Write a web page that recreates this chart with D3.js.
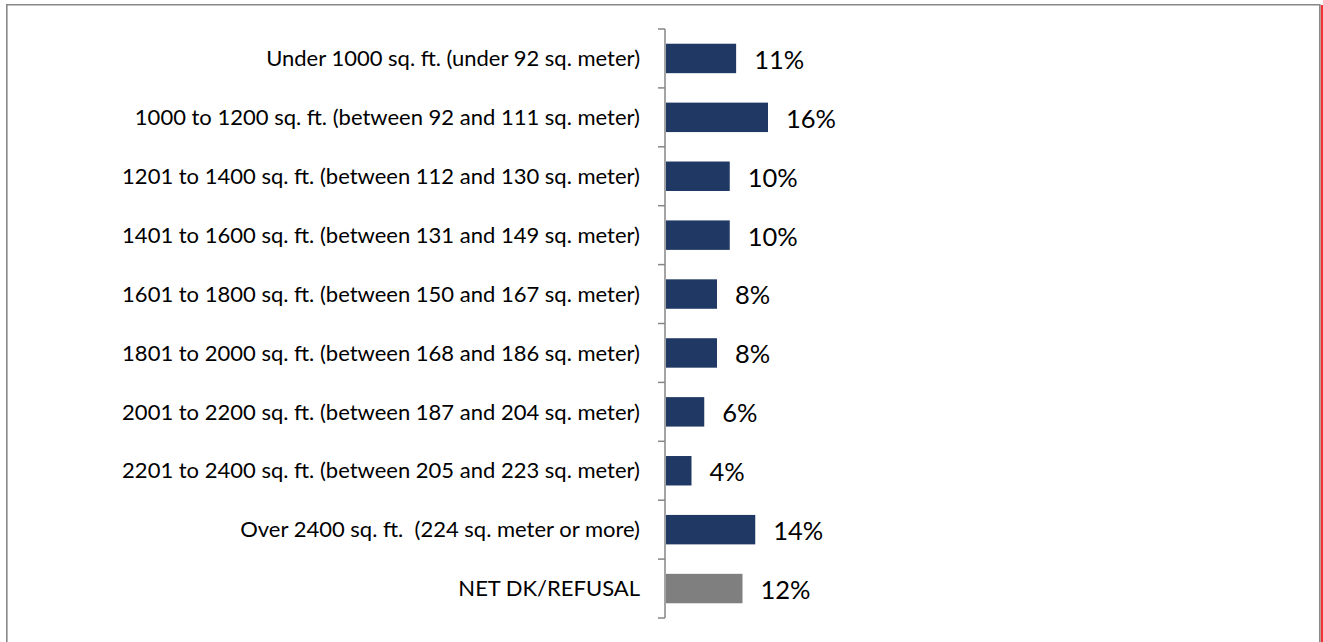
<!DOCTYPE html>
<html>
<head>
<meta charset="utf-8">
<script src="https://cdn.jsdelivr.net/npm/d3@7"></script>
<style>
  body { margin: 0; background: #fff; }
  svg { display: block; }
</style>
</head>
<body>
<div id="chart"></div>
<script>
  var categories = [
    "Under 1000 sq. ft. (under 92 sq. meter)",
    "1000 to 1200 sq. ft. (between 92 and 111 sq. meter)",
    "1201 to 1400 sq. ft. (between 112 and 130 sq. meter)",
    "1401 to 1600 sq. ft. (between 131 and 149 sq. meter)",
    "1601 to 1800 sq. ft. (between 150 and 167 sq. meter)",
    "1801 to 2000 sq. ft. (between 168 and 186 sq. meter)",
    "2001 to 2200 sq. ft. (between 187 and 204 sq. meter)",
    "2201 to 2400 sq. ft. (between 205 and 223 sq. meter)",
    "Over 2400 sq. ft.  (224 sq. meter or more)",
    "NET DK/REFUSAL"
  ];
  var values = [11, 16, 10, 10, 8, 8, 6, 4, 14, 12];
  var valueLabels = ["11%", "16%", "10%", "10%", "8%", "8%", "6%", "4%", "14%", "12%"];

  var width = 1323, height = 642;
  var axisX = 665;
  var plotTop = 29, plotBottom = 618;

  var svg = d3.select('#chart').append('svg')
    .attr('width', width)
    .attr('height', height);

  // outer frame (no bottom edge visible)
  svg.append('path')
    .attr('d', 'M6.8,642 V4.8 H1319.8 V642')
    .attr('fill', 'none')
    .attr('stroke', '#888888')
    .attr('stroke-width', 1.6);
  svg.append('rect')
    .attr('x', 1320.8).attr('y', 5)
    .attr('width', 2.2).attr('height', height - 5)
    .attr('fill', '#ee3333');

  var y = d3.scaleBand()
    .domain(categories)
    .range([plotTop, plotBottom])
    .paddingInner(0.5)
    .paddingOuter(0.25);

  var x = d3.scaleLinear()
    .domain([0, 16])
    .range([axisX + 1, axisX + 1 + 102]);

  var g = svg.append('g');

  g.selectAll('rect.bar')
    .data(values)
    .enter()
    .append('rect')
    .attr('class', 'bar')
    .attr('x', x(0))
    .attr('y', function(d, i) { return y(categories[i]); })
    .attr('width', function(d) { return x(d) - x(0); })
    .attr('height', y.bandwidth())
    .attr('fill', function(d, i) { return i === categories.length - 1 ? '#7f7f7f' : '#1f3864'; });

  g.selectAll('text.val')
    .data(values)
    .enter()
    .append('text')
    .attr('class', 'val')
    .attr('x', function(d) { return x(d) + 18; })
    .attr('y', function(d, i) { return y(categories[i]) + y.bandwidth() / 2 + 1.5; })
    .attr('dy', '0.35em')
    .style('font-family', 'Lato, "Open Sans", sans-serif')
    .style('font-size', '25.5px')
    .style('fill', '#000')
    .text(function(d, i) { return valueLabels[i]; });

  // category axis with ticks between categories
  var tickYs = d3.range(categories.length + 1).map(function(i) {
    return plotTop + (plotBottom - plotTop) * i / categories.length;
  });

  var ax = svg.append('g');
  ax.append('line')
    .attr('x1', axisX).attr('x2', axisX)
    .attr('y1', plotTop).attr('y2', plotBottom)
    .attr('stroke', '#868686')
    .attr('stroke-width', 1.5);
  ax.selectAll('line.tick')
    .data(tickYs)
    .enter()
    .append('line')
    .attr('class', 'tick')
    .attr('x1', axisX - 7).attr('x2', axisX)
    .attr('y1', function(d) { return d; })
    .attr('y2', function(d) { return d; })
    .attr('stroke', '#868686')
    .attr('stroke-width', 1.5);

  ax.selectAll('text.cat')
    .data(categories)
    .enter()
    .append('text')
    .attr('class', 'cat')
    .attr('x', 640)
    .attr('y', function(d) { return y(d) + y.bandwidth() / 2; })
    .attr('dy', '0.35em')
    .attr('text-anchor', 'end')
    .style('font-family', 'Lato, "Open Sans", sans-serif')
    .style('font-size', '22px')
    .style('fill', '#000')
    .style('white-space', 'pre')
    .text(function(d) { return d; });
</script>
</body>
</html>
